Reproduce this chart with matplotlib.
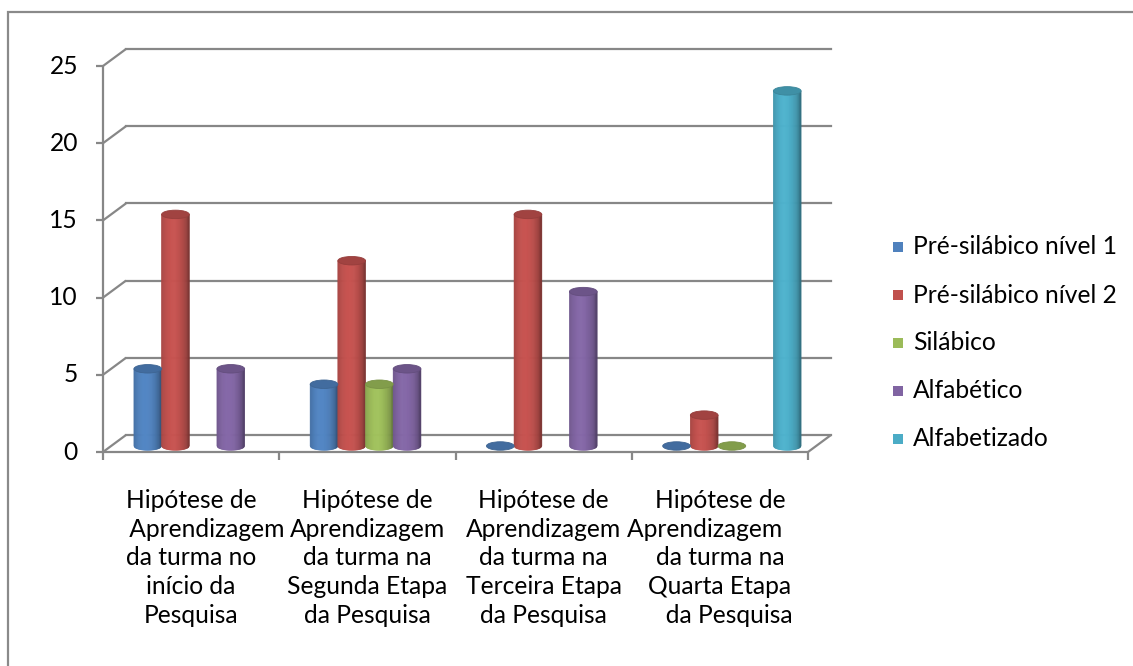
import numpy as np
import matplotlib
matplotlib.use("Agg")
import matplotlib.pyplot as plt
from matplotlib.patches import Polygon, Ellipse, Rectangle
from matplotlib.transforms import ScaledTranslation, IdentityTransform
from matplotlib.lines import Line2D

plt.rcParams['font.family'] = ['Lato', 'DejaVu Sans']

categories = [
    "Hipótese de\n     Aprendizagem\nda turma no\ninício da\nPesquisa",
    "Hipótese de\nAprendizagem\nda turma na\nSegunda Etapa\nda Pesquisa",
    "Hipótese de\nAprendizagem\nda turma na\nTerceira Etapa\nda Pesquisa",
    "Hipótese de\nAprendizagem     \nda turma na\nQuarta Etapa\n   da Pesquisa",
]
series_names = ["Pré-silábico nível 1", "Pré-silábico nível 2", "Silábico",
                "Alfabético", "Alfabetizado"]
pre_silabico_1 = [5, 4, 0, 0]
pre_silabico_2 = [15, 12, 15, 2]
silabico = [None, 4, None, 0]
alfabetico = [5, 5, 10, None]
alfabetizado = [None, None, None, 23]
series_values = [pre_silabico_1, pre_silabico_2, silabico, alfabetico, alfabetizado]
colors = ["#4F81BD", "#C0504D", "#9BBB59", "#8064A2", "#4BACC6"]
y_ticks = [0, 5, 10, 15, 20, 25]

W, H, DPI = 1133, 666, 100
FS = 17.7
fig = plt.figure(figsize=(W / DPI, H / DPI), dpi=DPI)

# front plane of the 3D box
x_left, x_right, y_bottom, y_top = 103, 808, 452, 66
ax = fig.add_axes([x_left / W, 1 - y_bottom / H, (x_right - x_left) / W,
                   (y_bottom - y_top) / H])
ax.set_xlim(-0.5, len(categories) - 0.5)
ax.set_ylim(0, 25)
ax.axis("off")

grid_col = "#878787"
depth_px = (23, 17)      # front -> back wall offset
bar_depth_px = (12, 6)   # bars stand mid-depth


def shift(dx, dy):
    return ax.transData + ScaledTranslation(dx / DPI, dy / DPI, fig.dpi_scale_trans)


back = shift(*depth_px)
mid = shift(*bar_depth_px)

# outer chart frame
fig.add_artist(Rectangle((8 / W, -0.1), 1.2, 1 - 12 / H + 0.1, transform=fig.transFigure,
                         fill=False, ec="#8a8a8a", lw=1.6))

xmin, xmax = ax.get_xlim()


def disp(x, y, off=(0, 0)):
    px, py = ax.transData.transform((x, y))
    return px + off[0], py + off[1]


def pix_line(p, q, **kw):
    fig.add_artist(Line2D([p[0], q[0]], [p[1], q[1]], transform=IdentityTransform(),
                          color=grid_col, lw=1.6, solid_capstyle="butt", **kw))


# back-wall gridlines and side-wall diagonals
for v in y_ticks:
    ax.plot([xmin, xmax], [v, v], color=grid_col, lw=1.6, transform=back, clip_on=False)
    pix_line(disp(xmin, v), disp(xmin, v, depth_px))
    # value axis tick
    pix_line(disp(xmin, v, (-7, 0)), disp(xmin, v))
    ax.text(xmin, v, str(v), transform=shift(-25, 0), ha="right", va="center",
            fontsize=FS, color="black")

# value axis, floor front and right edges
pix_line(disp(xmin, 0), disp(xmin, 25))
pix_line(disp(xmin, 0), disp(xmax, 0))
pix_line(disp(xmax, 0), disp(xmax, 0, depth_px))

# category ticks and labels
for i in range(len(categories) + 1):
    pix_line(disp(xmin + i, 0), disp(xmin + i, 0, (0, -8)))
for i, lab in enumerate(categories):
    ax.text(i, 0, lab, transform=shift(0, -37), ha="center", va="top",
            fontsize=FS, linespacing=1.30, color="black")

# cylinders
n = len(series_values)
slot = 0.157
eh = 0.55  # ellipse height in value units


def shade(base, t):
    base = np.array(matplotlib.colors.to_rgb(base))
    s = np.cos((t - 0.42) * np.pi * 0.95)
    s = np.sign(s) * abs(s) ** 0.7
    c = base * (0.72 + 0.32 * s)
    return np.clip(c, 0, 1)


for j, (vals, col) in enumerate(zip(series_values, colors)):
    for i, v in enumerate(vals):
        if v is None:
            continue
        xc = i + (j - (n - 1) / 2) * slot
        x0 = xc - slot / 2
        base_rgb = np.array(matplotlib.colors.to_rgb(col))
        if v > 0:
            m = 30
            edges = np.linspace(0, 1, m + 1)
            for k in range(m):
                ta, tb = edges[k], edges[k + 1]
                xa, xb = x0 + ta * slot, x0 + tb * slot
                ya = -eh / 2 * np.sqrt(max(0, 1 - (2 * ta - 1) ** 2))
                yb = -eh / 2 * np.sqrt(max(0, 1 - (2 * tb - 1) ** 2))
                c = shade(col, (ta + tb) / 2)
                poly = Polygon([(xa, v), (xb, v), (xb, yb), (xa, ya)], closed=True,
                               fc=c, ec=c, lw=0.5,
                               transform=mid, clip_on=False, zorder=3)
                ax.add_patch(poly)
        top = Ellipse((xc, v), slot, eh, fc=base_rgb * 0.84, ec=base_rgb * 0.78, lw=0.6,
                      transform=mid, clip_on=False, zorder=4)
        ax.add_patch(top)

# legend
leg_x, leg_y0, leg_dy = 893, 247, 48
for k, (name, col) in enumerate(zip(series_names, colors)):
    yy = leg_y0 + k * leg_dy
    fig.add_artist(Rectangle((leg_x / W, 1 - (yy + 5) / H), 10 / W, 10 / H,
                             transform=fig.transFigure, fc=col, ec="none"))
    fig.text((leg_x + 20) / W, 1 - yy / H, name, ha="left", va="center",
             fontsize=FS, color="black")

fig.savefig("out.png", dpi=DPI, facecolor="white")
